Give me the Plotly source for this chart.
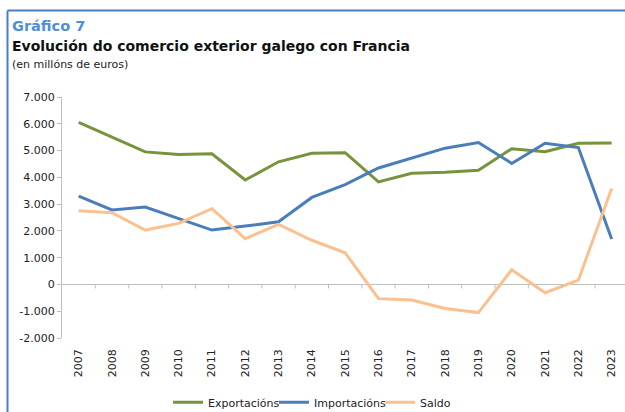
import plotly.graph_objects as go

years = list(range(2007, 2024))
exportacions = [6050, 5500, 4950, 4850, 4880, 3900, 4580, 4900, 4920, 3830, 4150, 4190, 4260, 5070, 4960, 5270, 5280]
importacions = [3300, 2780, 2890, 2470, 2030, 2180, 2340, 3250, 3730, 4350, 4730, 5090, 5300, 4520, 5270, 5110, 1700]
saldo = [2750, 2680, 2030, 2280, 2830, 1710, 2240, 1650, 1180, -530, -580, -900, -1050, 550, -310, 160, 3580]
ytick_vals = [-2000, -1000, 0, 1000, 2000, 3000, 4000, 5000, 6000, 7000]
ytick_text = ["-2.000", "-1.000", "0", "1.000", "2.000", "3.000", "4.000", "5.000", "6.000", "7.000"]

W, H = 625, 412
L, R, T, B = 62, 0, 96.5, 74.3
pw, ph = W - L - R, H - T - B

def px(x):
    return (x - L) / pw

def py(y):
    return (H - B - y) / ph

FONT = "DejaVu Sans"
fig = go.Figure()
series = [("Exportacións", exportacions, "#77933C"),
          ("Importacións", importacions, "#4A7EBB"),
          ("Saldo", saldo, "#FAC090")]
for name, vals, col in series:
    fig.add_trace(go.Scatter(x=years, y=vals, name=name, mode="lines",
                             line=dict(color=col, width=3)))

shapes = []
for yv in years[:-1]:
    shapes.append(dict(type="line", xref="x", yref="y", ysizemode="pixel", yanchor=0,
                       x0=yv + 0.5, x1=yv + 0.5, y0=0, y1=-4,
                       line=dict(color="#BFBFBF", width=1)))
frame_col = "#4A7EC4"
shapes.append(dict(type="line", xref="paper", yref="paper", x0=px(7.5), x1=px(7.5),
                   y0=py(10), y1=py(412), line=dict(color=frame_col, width=2)))
shapes.append(dict(type="line", xref="paper", yref="paper", x0=px(7.5), x1=px(625),
                   y0=py(10), y1=py(10), line=dict(color=frame_col, width=2)))

annotations = [
    dict(text="<b>Gráfico 7</b>", x=px(10), y=py(35), xref="paper", yref="paper",
         xanchor="left", yanchor="bottom", showarrow=False,
         font=dict(family=FONT, size=14.5, color="#4F8FD6")),
    dict(text="<b>Evolución do comercio exterior galego con Francia</b>", x=px(10), y=py(55),
         xanchor="left", yanchor="bottom", xref="paper", yref="paper", showarrow=False,
         font=dict(family=FONT, size=14, color="#111111")),
    dict(text="(en millóns de euros)", x=px(10), y=py(72),
         xanchor="left", yanchor="bottom", xref="paper", yref="paper", showarrow=False,
         font=dict(family=FONT, size=11, color="#222222")),
]

fig.update_layout(
    width=W, height=H,
    margin=dict(l=L, r=R, t=T, b=B, pad=0, autoexpand=False),
    paper_bgcolor="white", plot_bgcolor="white",
    font=dict(family=FONT, size=11, color="#222222"),
    showlegend=True,
    legend=dict(orientation="h", x=px(168), y=py(402), xanchor="left", yanchor="middle",
                font=dict(family=FONT, size=11, color="#222222"), bgcolor="rgba(0,0,0,0)",
                itemwidth=30, tracegroupgap=0, entrywidth=61, entrywidthmode="pixels"),
    shapes=shapes, annotations=annotations,
    xaxis=dict(range=[2006.5, 2023.4], tickvals=years, ticktext=[str(y) for y in years],
               tickangle=-90, showline=False, showgrid=False, zeroline=False, ticks="",
               ticklabelstandoff=8, automargin=False,
               tickfont=dict(family=FONT, size=11, color="#222222")),
    yaxis=dict(range=[-2000, 7000], tickvals=ytick_vals, ticktext=ytick_text,
               showline=True, linecolor="#BFBFBF", linewidth=1, showgrid=False,
               zeroline=True, zerolinecolor="#BFBFBF", zerolinewidth=1,
               ticks="outside", ticklen=4, tickcolor="#BFBFBF", automargin=False,
               tickfont=dict(family=FONT, size=11, color="#222222")),
)
fig.write_html("out.html", config={"displayModeBar": False},
               post_script="document.body.style.margin='0';document.body.style.overflow='hidden';")
